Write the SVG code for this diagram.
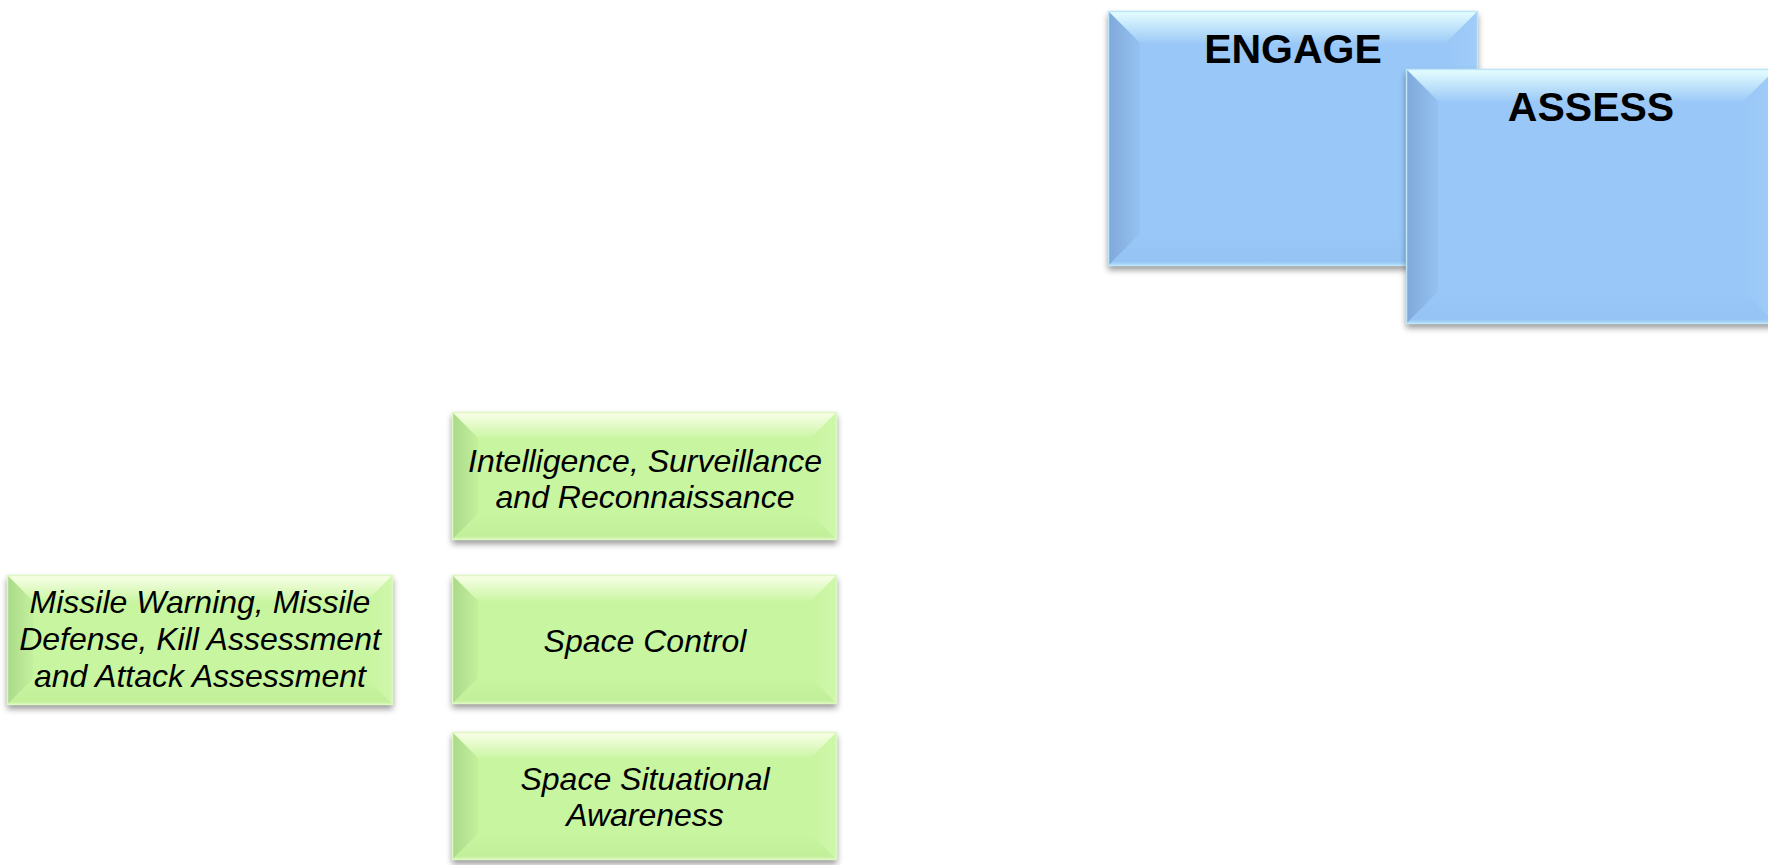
<svg xmlns="http://www.w3.org/2000/svg" width="1768" height="865" viewBox="0 0 1768 865">
<style>
.txt{font-family:"Liberation Sans",Arial,sans-serif;fill:#000;text-anchor:middle}
.g{font-size:32px;font-style:italic}
.b{font-size:41px;font-weight:bold}
.bBase{fill:#99C7F7}
.gBase{fill:#C8F5A0}
.bT{fill:url(#bTop)}.bL{fill:url(#bLeft)}.bR{fill:url(#bRight)}.bB{fill:url(#bBottom)}
.gT{fill:url(#gTop)}.gL{fill:url(#gLeft)}.gR{fill:url(#gRight)}.gB{fill:url(#gBottom)}
.bEdge{fill:none;stroke:#BDE6FB;stroke-width:1.5}
.gEdge{fill:none;stroke:#DDF8C0;stroke-width:1.5}
</style>
<defs>
<filter id="shadow" x="-5%" y="-10%" width="110%" height="130%">
<feDropShadow dx="0" dy="4" stdDeviation="3" flood-color="#000" flood-opacity="0.4"/>
</filter>
<linearGradient id="bTop" x1="0" y1="0" x2="0" y2="1"><stop offset="0" stop-color="#E6FFFF"/><stop offset="1" stop-color="#9DCAF7"/></linearGradient>
<linearGradient id="bLeft" x1="0" y1="0" x2="1" y2="0"><stop offset="0" stop-color="#7EA8D7"/><stop offset="1" stop-color="#95C2F2"/></linearGradient>
<linearGradient id="bRight" x1="0" y1="0" x2="1" y2="0"><stop offset="0" stop-color="#99C7F7"/><stop offset="1" stop-color="#A0CCF8"/></linearGradient>
<linearGradient id="bBottom" x1="0" y1="0" x2="0" y2="1"><stop offset="0" stop-color="#99C7F7"/><stop offset="0.85" stop-color="#95C4F4"/><stop offset="1" stop-color="#B5DFFA"/></linearGradient>
<linearGradient id="gTop" x1="0" y1="0" x2="0" y2="1"><stop offset="0" stop-color="#FAFFEA"/><stop offset="1" stop-color="#CBF6A4"/></linearGradient>
<linearGradient id="gLeft" x1="0" y1="0" x2="1" y2="0"><stop offset="0" stop-color="#A9D98A"/><stop offset="1" stop-color="#C3F09C"/></linearGradient>
<linearGradient id="gRight" x1="0" y1="0" x2="1" y2="0"><stop offset="0" stop-color="#C8F5A0"/><stop offset="1" stop-color="#D0F7AC"/></linearGradient>
<linearGradient id="gBottom" x1="0" y1="0" x2="0" y2="1"><stop offset="0" stop-color="#C8F5A0"/><stop offset="0.85" stop-color="#C2EF9A"/><stop offset="1" stop-color="#DAF8BC"/></linearGradient>
</defs>
<rect width="1768" height="865" fill="#FFFFFF"/>
<g id="connectors"/>

<g id="engage">
<rect class="bBase" x="1108" y="11" width="370" height="255" filter="url(#shadow)"/>
<path class="bT" d="M1108,11 H1478 L1446,43 H1140 Z"/>
<path class="bL" d="M1108,11 L1140,43 V234 L1108,266 Z"/>
<path class="bR" d="M1478,11 L1446,43 V234 L1478,266 Z"/>
<path class="bB" d="M1108,266 L1140,234 H1446 L1478,266 Z"/>
<rect class="bEdge" x="1108.5" y="11.5" width="369" height="254"/>
<text class="txt b" x="1293" y="63">ENGAGE</text>
</g>

<g id="assess">
<rect class="bBase" x="1406" y="69" width="370" height="255" filter="url(#shadow)"/>
<path class="bT" d="M1406,69 H1776 L1744,101 H1438 Z"/>
<path class="bL" d="M1406,69 L1438,101 V292 L1406,324 Z"/>
<path class="bR" d="M1776,69 L1744,101 V292 L1776,324 Z"/>
<path class="bB" d="M1406,324 L1438,292 H1744 L1776,324 Z"/>
<rect class="bEdge" x="1406.5" y="69.5" width="369" height="254"/>
<text class="txt b" x="1591" y="121">ASSESS</text>
</g>

<g id="isr">
<rect class="gBase" x="452" y="412" width="385" height="128" filter="url(#shadow)"/>
<path class="gT" d="M452,412 H837 L811,438 H478 Z"/>
<path class="gL" d="M452,412 L478,438 V514 L452,540 Z"/>
<path class="gR" d="M837,412 L811,438 V514 L837,540 Z"/>
<path class="gB" d="M452,540 L478,514 H811 L837,540 Z"/>
<rect class="gEdge" x="452.5" y="412.5" width="384" height="127"/>
<text class="txt g" x="645" y="472">Intelligence, Surveillance</text>
<text class="txt g" x="645" y="508">and Reconnaissance</text>
</g>

<g id="missile">
<rect class="gBase" x="7" y="575" width="386" height="130" filter="url(#shadow)"/>
<path class="gT" d="M7,575 H393 L367,601 H33 Z"/>
<path class="gL" d="M7,575 L33,601 V679 L7,705 Z"/>
<path class="gR" d="M393,575 L367,601 V679 L393,705 Z"/>
<path class="gB" d="M7,705 L33,679 H367 L393,705 Z"/>
<rect class="gEdge" x="7.5" y="575.5" width="385" height="129"/>
<text class="txt g" x="200" y="613">Missile Warning, Missile</text>
<text class="txt g" x="200" y="650">Defense, Kill Assessment</text>
<text class="txt g" x="200" y="687">and Attack Assessment</text>
</g>

<g id="space-control">
<rect class="gBase" x="452" y="575" width="385" height="129" filter="url(#shadow)"/>
<path class="gT" d="M452,575 H837 L811,601 H478 Z"/>
<path class="gL" d="M452,575 L478,601 V678 L452,704 Z"/>
<path class="gR" d="M837,575 L811,601 V678 L837,704 Z"/>
<path class="gB" d="M452,704 L478,678 H811 L837,704 Z"/>
<rect class="gEdge" x="452.5" y="575.5" width="384" height="128"/>
<text class="txt g" x="645" y="652">Space Control</text>
</g>

<g id="ssa">
<rect class="gBase" x="452" y="732" width="385" height="128" filter="url(#shadow)"/>
<path class="gT" d="M452,732 H837 L811,758 H478 Z"/>
<path class="gL" d="M452,732 L478,758 V834 L452,860 Z"/>
<path class="gR" d="M837,732 L811,758 V834 L837,860 Z"/>
<path class="gB" d="M452,860 L478,834 H811 L837,860 Z"/>
<rect class="gEdge" x="452.5" y="732.5" width="384" height="127"/>
<text class="txt g" x="645" y="790">Space Situational</text>
<text class="txt g" x="645" y="826">Awareness</text>
</g>
</svg>
